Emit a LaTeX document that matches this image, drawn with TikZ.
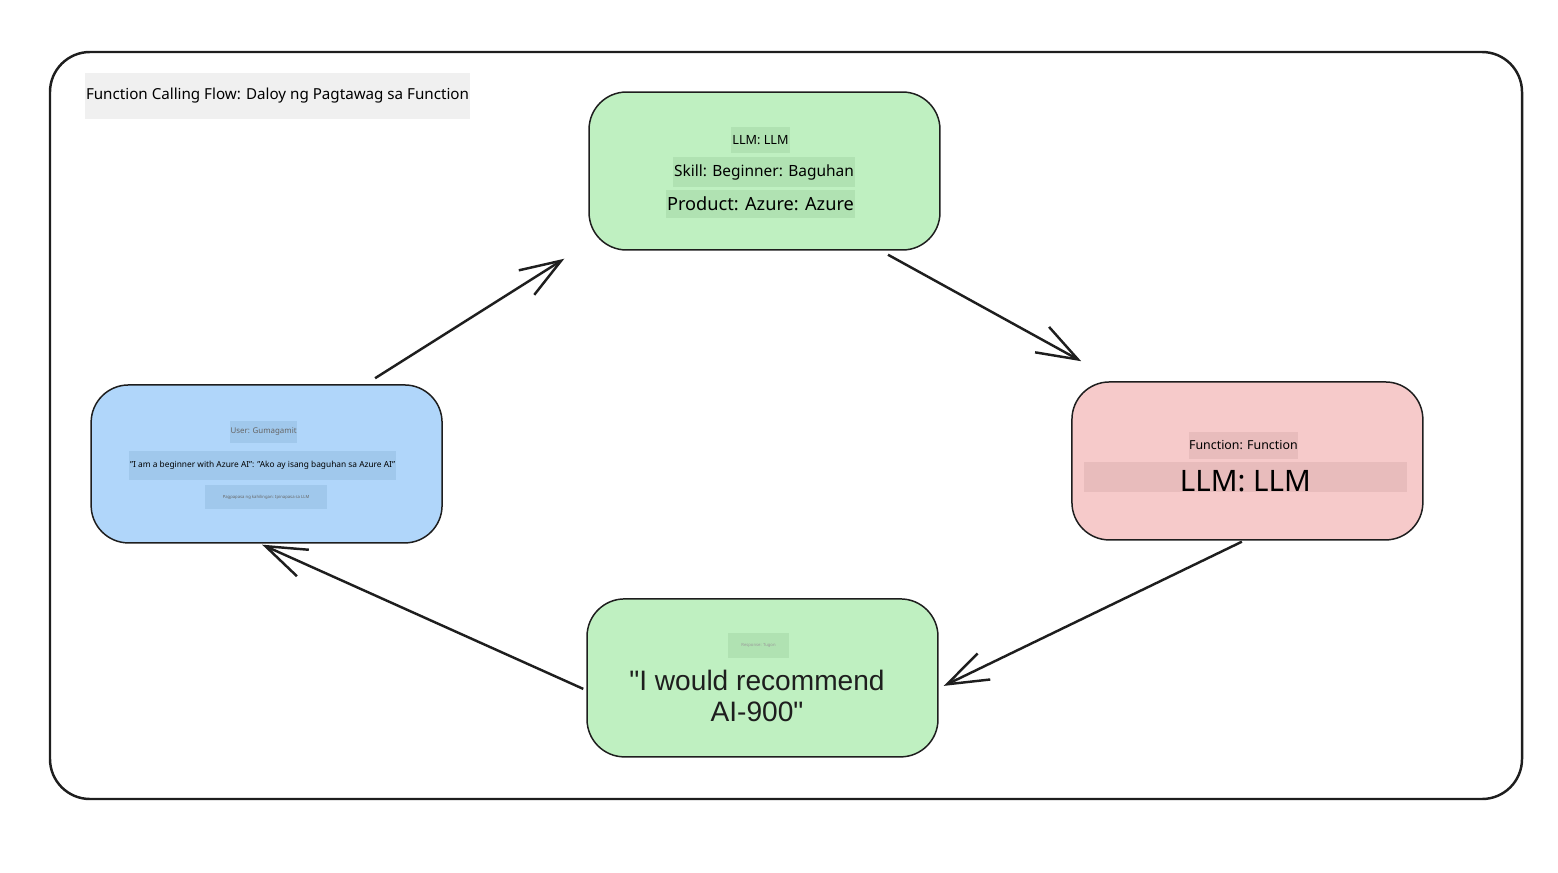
\documentclass[tikz,border=0pt]{standalone}
\usepackage{fontspec}
\setmainfont{Noto Sans}
\newfontfamily\quotefont{Liberation Sans}
\usetikzlibrary{calc,positioning,arrows.meta}
\definecolor{llmgreen}{RGB}{191,240,193}
\definecolor{llmgreentag}{RGB}{176,226,178}
\definecolor{userblue}{RGB}{176,214,250}
\definecolor{userbluetag}{RGB}{160,200,236}
\definecolor{funcpink}{RGB}{246,202,202}
\definecolor{funcpinktag}{RGB}{232,188,188}
\definecolor{linegray}{RGB}{30,30,30}
\tikzstyle{stage} = [rectangle, draw=linegray, line width=0.85pt, rounded corners=0.75cm, minimum width=7.02cm, minimum height=3.16cm, text centered]
\tikzstyle{tag} = [rectangle, inner sep=0pt, text centered, text=black]
\tikzstyle{connector} = [line width=1.4pt, draw=linegray, -{Straight Barb[length=0.82cm, width=0.58cm]}]

\begin{document}
\begin{tikzpicture}[x=0.02cm, y=-0.02cm]
        \useasboundingbox (0,0) rectangle (1558,872);
        \draw [line width=1.4pt, draw=linegray, rounded corners=0.8cm] (50,52) rectangle (1522,799);
        \node (title) [tag, fill=black!6, minimum width=7.7cm, minimum height=0.92cm, font=\fontsize{8.63}{10}\selectfont] at (277.5,96) {Function Calling Flow: Daloy ng Pagtawag sa Function};
        \node (llm) [stage, fill=llmgreen] at (764.5,171) {};
        \node (user) [stage, fill=userblue, left of = llm, xshift = -8.96cm, yshift = -5.86cm] {};
        \node (func) [stage, fill=funcpink, right of = llm, xshift = 8.66cm, yshift = -5.80cm] {};
        \node (reply) [stage, fill=llmgreen, below of = llm, xshift = -0.04cm, yshift = -9.14cm] {};
        \node (llm-name) [tag, fill=llmgreentag, minimum width=1.18cm, minimum height=0.52cm, font=\fontsize{7.2}{8}\selectfont] at ($(llm)+(-4,-31)$) {LLM: LLM};
        \node (llm-skill) [tag, fill=llmgreentag, minimum width=3.64cm, minimum height=0.6cm, font=\fontsize{8.8}{10}\selectfont] at ($(llm)+(-0.5,1)$) {Skill: Beginner: Baguhan};
        \node (llm-product) [tag, fill=llmgreentag, minimum width=3.78cm, minimum height=0.56cm, font=\fontsize{10.35}{12}\selectfont] at ($(llm)+(-4,33)$) {Product: Azure: Azure};
        \node (user-name) [tag, fill=userbluetag, text=black!60, minimum width=1.22cm, minimum height=0.44cm, font=\fontsize{4.5}{5}\selectfont] at ($(user)+(-3,-32)$) {User: Gumagamit};
        \node (user-query) [tag, fill=userbluetag, minimum width=5.34cm, minimum height=0.58cm, font=\fontsize{4.75}{6}\selectfont] at ($(user)+(-4,1.5)$) {"I am a beginner with Azure AI": "Ako ay isang baguhan sa Azure AI"};
        \node (user-note) [tag, fill=userbluetag, text=black!60, minimum width=2.44cm, minimum height=0.48cm, font=\fontsize{2.4}{3}\selectfont] at ($(user)+(-0.5,33)$) {Pagpapasa ng kahilingan: Ipinapasa sa LLM};
        \node (func-name) [tag, fill=funcpinktag, minimum width=2.18cm, minimum height=0.54cm, font=\fontsize{7.05}{8}\selectfont] at ($(func)+(-4,-15.5)$) {Function: Function};
        \node (func-llm) [tag, fill=funcpinktag, minimum width=6.46cm, minimum height=0.6cm, font=\fontsize{16.8}{20}\selectfont] at ($(func)+(-2,16)$) {\raisebox{-0.3cm}[0pt][0pt]{LLM: LLM}};
        \node (reply-name) [tag, fill=llmgreentag, text=black!40, minimum width=1.22cm, minimum height=0.5cm, font=\fontsize{2.4}{3}\selectfont] at ($(reply)+(-4,-32.5)$) {Response: Tugon};
        \node (reply-text) [align=center, text=linegray, font=\quotefont\fontsize{16}{18.1}\selectfont] at ($(reply)+(-5.5,18)$) {"I would recommend\\AI-900"};
        \draw [connector] ($(user.north)+(108.5,-6)$) -- ($(llm.south west)+(-24,8)$);
        \draw [connector] ($(llm.south)+(123.5,4)$) -- ($(func.north west)+(10,-20)$);
        \draw [connector] ($(func.south)+(-5.5,1)$) -- ($(reply.east)+(5,8)$);
        \draw [connector] ($(reply.west)+(-3,11)$) -- ($(user.south)+(-4.5,1)$);
    \end{tikzpicture}
\end{document}
